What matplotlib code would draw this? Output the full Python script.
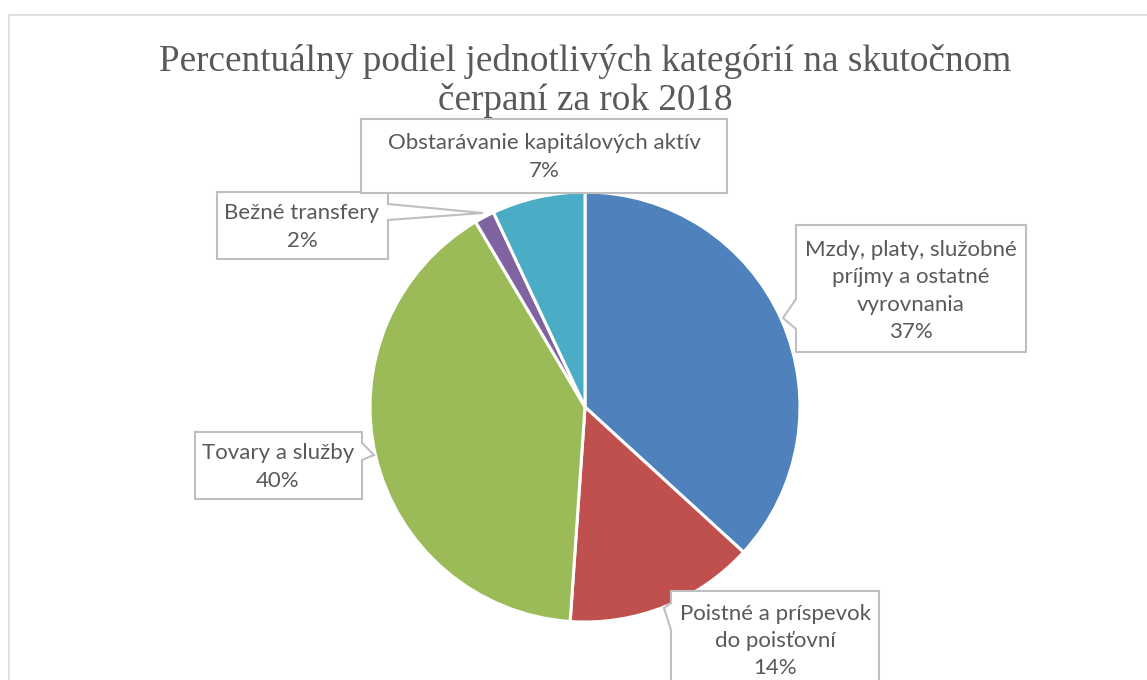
import matplotlib.pyplot as plt
from matplotlib.patches import Polygon, Rectangle

# podiely kategorii (%)
kategorie = ['Mzdy, platy, služobné\npríjmy a ostatné\nvyrovnania',
             'Poistné a príspevok\ndo poisťovní',
             'Tovary a služby',
             'Bežné transfery',
             'Obstarávanie kapitálových aktív']
podiely = [36.8, 14.3, 40.4, 1.5, 7.0]
farby = ['#4F81BD', '#C0504D', '#9BBB59', '#8064A2', '#4BACC6']

W, H = 1147, 680
sivy = '#595959'

fig = plt.figure(figsize=(W / 100, H / 100), dpi=100)
ax = fig.add_axes([0, 0, 1, 1])

def py(y):
    # prevod z pixelov (zhora) na suradnice osi
    return H - y

# ramik grafu
ax.add_patch(Rectangle((9, py(700)), 1160, 685, fill=False, ec='#D9D9D9', lw=1.2, zorder=0))

ax.pie(podiely, colors=farby, startangle=90, counterclock=False,
       center=(585, py(407)), radius=215, frame=True,
       wedgeprops=dict(edgecolor='white', linewidth=2.2))
ax.set_xlim(0, W)
ax.set_ylim(0, H)
ax.set_aspect('equal')
ax.axis('off')

# titulok
ax.text(585, py(71), 'Percentuálny podiel jednotlivých kategórií na skutočnom',
        ha='center', va='baseline', fontsize=26.8, family='Liberation Serif', color=sivy)
ax.text(585, py(110), 'čerpaní za rok 2018',
        ha='center', va='baseline', fontsize=26.8, family='Liberation Serif', color=sivy)

# bubliny s popismi
bubliny = [
    [(796, 225), (1026, 225), (1026, 352), (796, 352), (796, 329), (783, 318), (796, 299)],
    [(671, 591), (879, 591), (879, 700), (671, 700), (671, 630), (664, 608), (671, 603)],
    [(195, 432), (362, 432), (362, 443), (374, 455), (362, 460), (362, 499), (195, 499)],
    [(217, 192), (388, 192), (388, 204), (483, 213), (388, 220), (388, 259), (217, 259)],
    [(361, 119), (727, 119), (727, 193), (361, 193)],
]
stredy = [(911, 291), (775, 641), (278, 467), (302, 227), (544, 157)]

for i in range(len(podiely)):
    body = [(x, py(y)) for x, y in bubliny[i]]
    ax.add_patch(Polygon(body, closed=True, fc='white', ec='#BFBFBF', lw=1.5, zorder=5))
    txt = kategorie[i] + '\n' + '{:.0f}%'.format(round(podiely[i]))
    ax.text(stredy[i][0], py(stredy[i][1]), txt, ha='center', va='center',
            fontsize=16, family='Lato', color=sivy, linespacing=1.45, zorder=6)

fig.savefig('out.png', dpi=100)
